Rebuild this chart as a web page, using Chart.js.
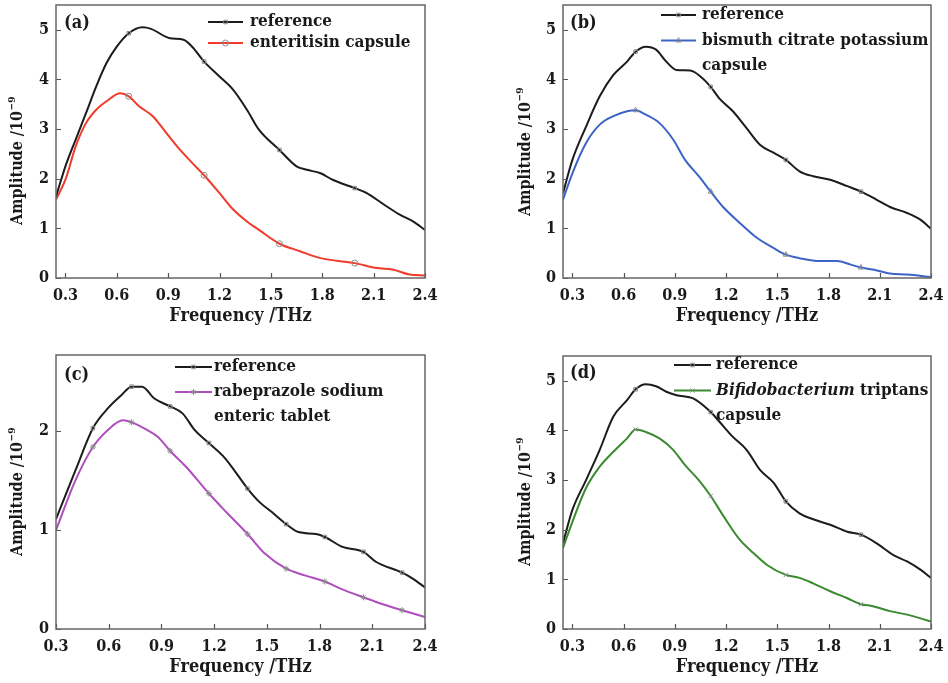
<!DOCTYPE html>
<html><head><meta charset="utf-8">
<script src="https://cdn.jsdelivr.net/npm/chart.js@4/dist/chart.umd.min.js"></script>
<style>
html,body{margin:0;padding:0;background:#fff;}
body{width:948px;height:683px;position:relative;overflow:hidden;}
canvas{position:absolute;}
</style>
</head><body>
<script>
// ---------- data ----------
const xTicks = [0.3,0.6,0.9,1.2,1.5,1.8,2.1,2.4];
const yTicksFive = [0,1,2,3,4,5];
const yTicksC = [0,1,2];
const markersABD = [0.67,1.11,1.55,1.99];
const markersC = [0.51,0.73,0.95,1.17,1.39,1.61,1.83,2.05,2.27];
const panelLabels = ['(a)','(b)','(c)','(d)'];
const xTitle = 'Frequency /THz';
const yTitleMain = 'Amplitude /10';
const yTitleSup = '\u22129';
const refLabel = ['reference'];
const legendA = ['enteritisin capsule'];
const legendB = ['bismuth citrate potassium','capsule'];
const legendC = ['rabeprazole sodium','enteric tablet'];
const legendD = ['Bifidobacterium triptans','capsule'];
const italicWordsD = ['Bifidobacterium'];

const freqA_ref = [0.245,0.30,0.36,0.42,0.48,0.54,0.60,0.67,0.75,0.80,0.91,0.99,1.04,1.11,1.20,1.28,1.36,1.43,1.55,1.65,1.71,1.79,1.86,1.99,2.06,2.16,2.25,2.33,2.40];
const ampA_ref  = [1.64,2.25,2.79,3.32,3.86,4.33,4.66,4.93,5.05,5.02,4.83,4.80,4.66,4.36,4.06,3.79,3.39,2.99,2.58,2.25,2.18,2.11,1.98,1.81,1.71,1.48,1.28,1.14,0.97];
const freqA_smp = [0.245,0.30,0.36,0.42,0.48,0.54,0.62,0.67,0.73,0.81,0.89,0.97,1.04,1.11,1.20,1.28,1.36,1.43,1.55,1.67,1.79,1.99,2.12,2.21,2.31,2.40];
const ampA_smp  = [1.58,1.98,2.65,3.12,3.39,3.56,3.72,3.66,3.46,3.26,2.92,2.58,2.32,2.07,1.71,1.38,1.14,0.97,0.69,0.54,0.40,0.30,0.20,0.17,0.07,0.05];

const freqB_ref = [0.245,0.30,0.38,0.46,0.54,0.62,0.67,0.73,0.79,0.85,0.91,0.99,1.05,1.11,1.16,1.24,1.32,1.40,1.48,1.55,1.63,1.71,1.81,1.91,1.99,2.08,2.16,2.26,2.34,2.40];
const ampB_ref  = [1.71,2.38,3.05,3.66,4.09,4.36,4.56,4.66,4.60,4.36,4.19,4.18,4.06,3.85,3.62,3.36,3.02,2.68,2.52,2.38,2.15,2.05,1.98,1.85,1.74,1.58,1.43,1.31,1.17,0.99];
const freqB_smp = [0.245,0.30,0.38,0.46,0.54,0.62,0.67,0.73,0.81,0.89,0.96,1.04,1.11,1.18,1.28,1.38,1.48,1.55,1.63,1.75,1.85,1.93,1.99,2.06,2.16,2.26,2.40];
const ampB_smp  = [1.58,2.11,2.72,3.09,3.26,3.36,3.38,3.29,3.12,2.79,2.38,2.05,1.74,1.44,1.11,0.81,0.60,0.47,0.40,0.34,0.34,0.27,0.21,0.17,0.09,0.07,0.02];

const freqC_ref = [0.30,0.41,0.51,0.60,0.67,0.73,0.79,0.86,0.95,1.02,1.09,1.17,1.25,1.30,1.39,1.46,1.53,1.61,1.68,1.78,1.83,1.93,2.05,2.12,2.27,2.33,2.40];
const ampC_ref  = [1.11,1.60,2.03,2.24,2.36,2.45,2.45,2.33,2.25,2.18,2.01,1.88,1.75,1.64,1.42,1.28,1.18,1.06,0.98,0.96,0.93,0.83,0.78,0.68,0.57,0.51,0.42];
const freqC_smp = [0.30,0.41,0.51,0.60,0.68,0.73,0.81,0.88,0.95,1.04,1.17,1.27,1.39,1.49,1.61,1.72,1.83,1.93,2.05,2.16,2.27,2.40];
const ampC_smp  = [1.00,1.50,1.84,2.02,2.11,2.09,2.02,1.94,1.80,1.64,1.37,1.18,0.96,0.76,0.61,0.54,0.48,0.40,0.32,0.25,0.19,0.12];

const freqD_ref = [0.245,0.30,0.38,0.46,0.54,0.62,0.67,0.73,0.79,0.85,0.91,1.01,1.11,1.16,1.24,1.32,1.40,1.48,1.55,1.63,1.71,1.81,1.91,1.99,2.08,2.18,2.26,2.34,2.40];
const ampD_ref  = [1.73,2.40,3.00,3.61,4.28,4.61,4.83,4.93,4.89,4.78,4.71,4.64,4.37,4.18,3.87,3.61,3.20,2.94,2.57,2.33,2.21,2.10,1.96,1.90,1.73,1.49,1.36,1.19,1.03];
const freqD_smp = [0.245,0.30,0.38,0.46,0.54,0.62,0.67,0.73,0.81,0.89,0.96,1.04,1.11,1.18,1.28,1.36,1.44,1.55,1.63,1.71,1.81,1.91,1.99,2.06,2.16,2.26,2.40];
const ampD_smp  = [1.63,2.16,2.84,3.27,3.57,3.84,4.02,3.97,3.84,3.61,3.30,3.00,2.68,2.30,1.80,1.53,1.29,1.09,1.03,0.92,0.76,0.62,0.50,0.46,0.36,0.29,0.15];

// ---------- styling / layout ----------
const FONT = '"DejaVu Serif Condensed", "DejaVu Serif", "Liberation Serif", serif';
const WEIGHT = 'bold';
const TXT = '#1a1a1a';
const REF_COLOR = '#1c1c1c';
const MARK_COLOR = '#8a8a8a';

const panels = [
  {id:0, cx:0,   cy:0,   cw:474, ch:340, pl:56,  pt:5,   pr:425, pb:278, xmin:0.245, ymax:5.5, yTicks:yTicksFive,
   refX:freqA_ref, refY:ampA_ref, smpX:freqA_smp, smpY:ampA_smp, markers:markersABD,
   color:'#f23a2b', style:'circle', legend:legendA, italic:[],
   lineX0:208, lineX1:243, textX:250, legY:22, rowGap:21, labX:64, labY:23, ytX:18, ytY:161},
  {id:1, cx:474, cy:0,   cw:474, ch:340, pl:563, pt:5,   pr:931, pb:278, xmin:0.245, ymax:5.5, yTicks:yTicksFive,
   refX:freqB_ref, refY:ampB_ref, smpX:freqB_smp, smpY:ampB_smp, markers:markersABD,
   color:'#3b64c6', style:'triangle', legend:legendB, italic:[],
   lineX0:661, lineX1:696, textX:702, legY:15, rowGap:25.5, labX:570, labY:23, ytX:526, ytY:152},
  {id:2, cx:0,   cy:340, cw:474, ch:343, pl:56,  pt:355, pr:425, pb:629, xmin:0.3, ymax:2.77, yTicks:yTicksC,
   refX:freqC_ref, refY:ampC_ref, smpX:freqC_smp, smpY:ampC_smp, markers:markersC,
   color:'#b04ebf', style:'star', legend:legendC, italic:[],
   lineX0:175, lineX1:212, textX:214, legY:367, rowGap:25, labX:64, labY:375, ytX:18, ytY:492},
  {id:3, cx:474, cy:340, cw:474, ch:343, pl:563, pt:356, pr:931, pb:629, xmin:0.245, ymax:5.5, yTicks:yTicksFive,
   refX:freqD_ref, refY:ampD_ref, smpX:freqD_smp, smpY:ampD_smp, markers:markersABD,
   color:'#3a8a30', style:'crossRot', legend:legendD, italic:italicWordsD,
   lineX0:674, lineX1:711, textX:716, legY:365, rowGap:25.5, labX:570, labY:373, ytX:526, ytY:502}
];

function drawMarker(ctx, style, x, y, r) {
  ctx.save();
  ctx.strokeStyle = MARK_COLOR; ctx.lineWidth = 1;
  if (Chart.helpers && Chart.helpers.drawPoint) {
    ctx.fillStyle = 'rgba(0,0,0,0)';
    Chart.helpers.drawPoint(ctx, {pointStyle: style, radius: r, rotation: 0, borderWidth: 1}, x, y);
  } else {
    ctx.beginPath(); ctx.arc(x, y, r, 0, Math.PI*2); ctx.stroke();
  }
  ctx.restore();
}

function drawRich(ctx, text, x, y, italicWords, size) {
  const words = text.split(' ');
  let cx = x;
  words.forEach((w, i) => {
    const seg = (i < words.length - 1) ? w + ' ' : w;
    ctx.font = (italicWords.includes(w) ? 'italic ' : '') + WEIGHT + ' ' + size + 'px ' + FONT;
    ctx.fillText(seg, cx, y);
    cx += ctx.measureText(seg).width;
  });
}

function makeChart(p) {
  const cv = document.createElement('canvas');
  cv.width = p.cw; cv.height = p.ch;
  cv.style.left = p.cx + 'px'; cv.style.top = p.cy + 'px';
  cv.style.width = p.cw + 'px'; cv.style.height = p.ch + 'px';
  document.body.appendChild(cv);
  const plotL = p.pl - p.cx, plotT = p.pt - p.cy, plotR = p.pr - p.cx, plotB = p.pb - p.cy;
  const isMark = (x) => p.markers.some(v => Math.abs(v - x) < 1e-6);
  const radius = (r) => (c) => (c.raw && isMark(c.raw.x)) ? r : 0;
  const xAxisH = p.ch - plotB;

  const decor = {
    id: 'decor',
    afterDraw(chart) {
      const ctx = chart.ctx, a = chart.chartArea;
      const xs = chart.scales.x, ys = chart.scales.y;
      ctx.save();
      ctx.strokeStyle = '#555'; ctx.lineWidth = 1.2;
      ctx.beginPath();
      xTicks.forEach(v => { const px = Math.round(xs.getPixelForValue(v)) + 0.5; ctx.moveTo(px, a.bottom); ctx.lineTo(px, a.bottom - 5); });
      p.yTicks.forEach(v => { const py = Math.round(ys.getPixelForValue(v)) + 0.5; ctx.moveTo(a.left, py); ctx.lineTo(a.left + 5, py); });
      ctx.stroke();
      ctx.strokeStyle = '#666'; ctx.lineWidth = 1.5;
      ctx.strokeRect(a.left, a.top, a.right - a.left, a.bottom - a.top);
      ctx.fillStyle = TXT; ctx.textBaseline = 'middle'; ctx.textAlign = 'left';
      ctx.font = WEIGHT + ' 18px ' + FONT;
      ctx.fillText(panelLabels[p.id], p.labX - p.cx, p.labY - p.cy);
      const entries = [
        {color: REF_COLOR, style: 'rect', lines: refLabel, r: 2.5},
        {color: p.color, style: p.style, lines: p.legend, r: 3}
      ];
      let row = 0;
      entries.forEach(e => {
        const y = p.legY - p.cy + row * p.rowGap;
        ctx.strokeStyle = e.color; ctx.lineWidth = 2.2;
        ctx.beginPath(); ctx.moveTo(p.lineX0 - p.cx, y); ctx.lineTo(p.lineX1 - p.cx, y); ctx.stroke();
        drawMarker(ctx, e.style, (p.lineX0 + p.lineX1) / 2 - p.cx, y, e.r);
        ctx.fillStyle = TXT; ctx.textBaseline = 'middle'; ctx.textAlign = 'left';
        e.lines.forEach((t, k) => {
          drawRich(ctx, t, p.textX - p.cx, p.legY - p.cy + (row + k) * p.rowGap, p.italic, 17);
        });
        row += e.lines.length;
      });
      ctx.translate(p.ytX - p.cx, p.ytY - p.cy);
      ctx.rotate(-Math.PI / 2);
      ctx.font = WEIGHT + ' 16px ' + FONT;
      const w1 = ctx.measureText(yTitleMain).width;
      ctx.font = WEIGHT + ' 10px ' + FONT;
      const w2 = ctx.measureText(yTitleSup).width;
      const start = -(w1 + w2) / 2;
      ctx.fillStyle = TXT; ctx.textBaseline = 'middle'; ctx.textAlign = 'left';
      ctx.font = WEIGHT + ' 16px ' + FONT;
      ctx.fillText(yTitleMain, start, 0);
      ctx.font = WEIGHT + ' 10px ' + FONT;
      ctx.fillText(yTitleSup, start + w1 + 0.5, -6);
      ctx.restore();
    }
  };

  new Chart(cv, {
    type: 'line',
    data: {
      datasets: [
        {label: refLabel[0], data: p.refX.map((x, i) => ({x, y: p.refY[i]})),
         borderColor: REF_COLOR, borderWidth: 2, fill: false,
         cubicInterpolationMode: 'monotone',
         pointStyle: 'rect', pointRadius: radius(2.5), pointHoverRadius: 0,
         pointBorderColor: MARK_COLOR, pointBackgroundColor: 'rgba(0,0,0,0)', pointBorderWidth: 1},
        {label: p.legend.join(' '), data: p.smpX.map((x, i) => ({x, y: p.smpY[i]})),
         borderColor: p.color, borderWidth: 2, fill: false,
         cubicInterpolationMode: 'monotone',
         pointStyle: p.style, pointRadius: radius(3), pointHoverRadius: 0,
         pointBorderColor: MARK_COLOR, pointBackgroundColor: 'rgba(0,0,0,0)', pointBorderWidth: 1}
      ]
    },
    options: {
      responsive: false, animation: false, devicePixelRatio: 1,
      events: [],
      layout: {padding: {left: 0, top: plotT, right: p.cw - plotR, bottom: 0}},
      plugins: {legend: {display: false}, tooltip: {enabled: false}},
      scales: {
        x: {
          type: 'linear', min: p.xmin, max: 2.4,
          afterBuildTicks: s => { s.ticks = xTicks.map(v => ({value: v})); },
          afterFit: s => { s.height = xAxisH; s.paddingLeft = 0; s.paddingRight = 0; },
          grid: {display: false, drawTicks: false}, border: {display: false},
          ticks: {font: {family: FONT, size: 16, weight: WEIGHT}, color: TXT, padding: 8, maxRotation: 0, autoSkip: false,
                  callback: v => Number(v).toFixed(1)},
          title: {display: true, text: xTitle, color: TXT, font: {family: FONT, size: 18, weight: WEIGHT},
                  padding: {top: 0, bottom: xAxisH - 38 - 11}}
        },
        y: {
          type: 'linear', min: 0, max: p.ymax,
          afterBuildTicks: s => { s.ticks = p.yTicks.map(v => ({value: v})); },
          afterFit: s => { s.width = plotL; s.paddingTop = 0; s.paddingBottom = 0; },
          grid: {display: false, drawTicks: false}, border: {display: false},
          ticks: {font: {family: FONT, size: 16, weight: WEIGHT}, color: TXT, padding: 7,
                  callback: v => String(v)}
        }
      }
    },
    plugins: [decor]
  });
}

panels.forEach(makeChart);
</script>
</body></html>
